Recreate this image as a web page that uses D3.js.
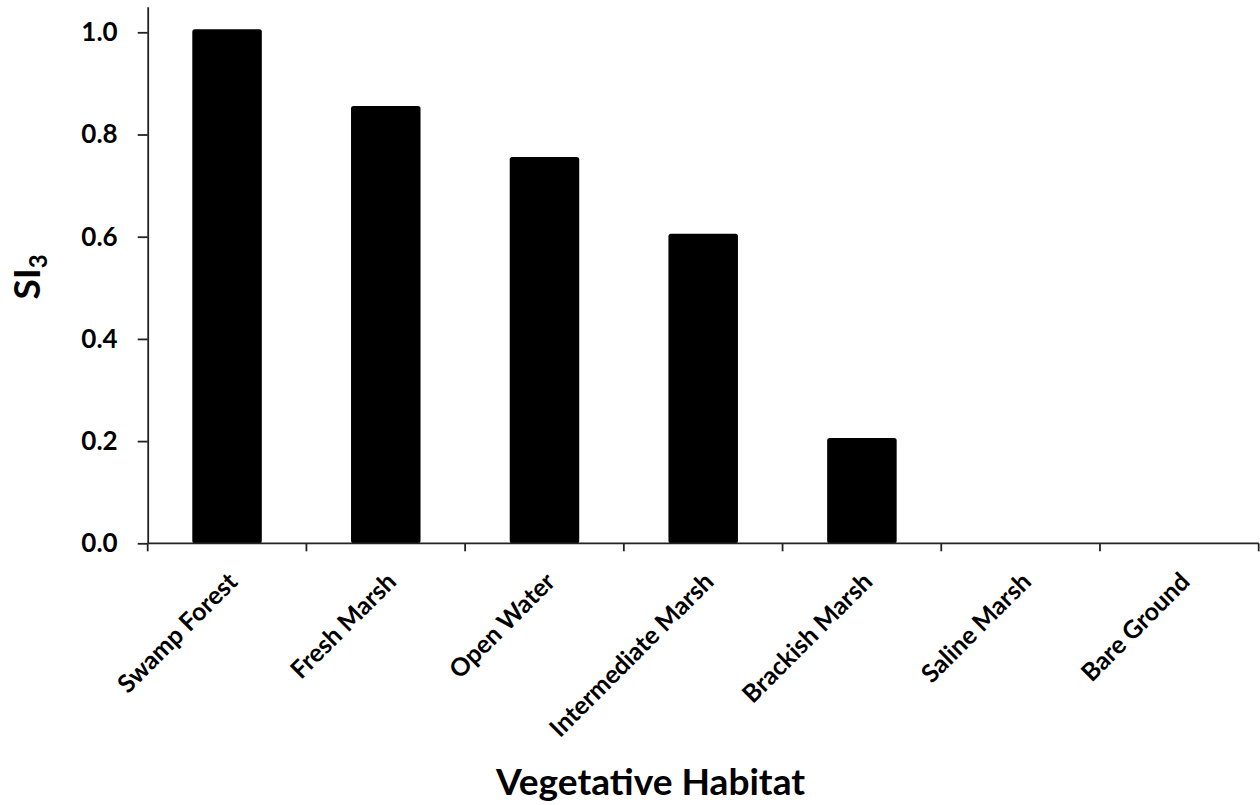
<!DOCTYPE html>
<html>
<head>
<meta charset="utf-8">
<script src="https://cdn.jsdelivr.net/npm/d3@7"></script>
<style>
  html, body { margin: 0; padding: 0; background: #fff; }
  svg { display: block; }
  text { font-family: Lato, "Open Sans", sans-serif; fill: #000; }
</style>
</head>
<body>
<svg id="chart" width="1260" height="805"></svg>
<script>
const categories = ["Swamp Forest", "Fresh Marsh", "Open Water", "Intermediate Marsh", "Brackish Marsh", "Saline Marsh", "Bare Ground"];
const values = [1.0, 0.85, 0.75, 0.6, 0.2, 0, 0];
const yTicks = [0, 0.2, 0.4, 0.6, 0.8, 1.0];
const xTitle = "Vegetative Habitat";
const yTitleMain = "SI";
const yTitleSub = "3";

(function () {
const svg = d3.select("#chart");
const plotLeft = 147.7, plotRight = 1258.7, plotBottom = 543.3, plotTop = 6.75;

const x = d3.scaleBand().domain(categories).range([plotLeft, plotRight]).padding(0);
const y = d3.scaleLinear().domain([0, 1.05]).range([plotBottom, plotTop]);

const barFrac = 0.438;
const bw = x.bandwidth() * barFrac;

// bars
svg.append("g").selectAll("rect")
  .data(categories.map((c, i) => ({c, v: values[i]})).filter(d => d.v > 0))
  .join("rect")
  .attr("x", d => x(d.c) + x.bandwidth() / 2 - bw / 2)
  .attr("width", bw)
  .attr("y", d => y(d.v) - 3)
  .attr("height", d => y(0) - y(d.v) + 3)
  .attr("rx", 2.5)
  .attr("fill", "#000");

// y axis
const yAxis = svg.append("g")
  .attr("transform", `translate(${plotLeft},0)`)
  .call(d3.axisLeft(y).tickValues(yTicks).tickFormat(d3.format(".1f"))
    .tickSize(10).tickSizeOuter(0).tickPadding(20));
yAxis.select(".domain").attr("stroke", "#222").attr("stroke-width", 1.8);
yAxis.selectAll(".tick line").attr("stroke", "#222").attr("stroke-width", 1.8);
yAxis.selectAll(".tick text")
  .style("font-family", "Lato, sans-serif")
  .style("font-weight", "bold")
  .style("font-size", "26px")
  .attr("fill", "#000");

// x axis
const xg = svg.append("g");
xg.append("line")
  .attr("x1", plotLeft).attr("x2", plotRight)
  .attr("y1", y(0)).attr("y2", y(0))
  .attr("stroke", "#222").attr("stroke-width", 1.8);
const boundaries = categories.map(c => x(c)).concat([x.range()[1]]);
xg.selectAll("line.tk").data(boundaries).join("line")
  .attr("class", "tk")
  .attr("x1", d => d).attr("x2", d => d)
  .attr("y1", y(0)).attr("y2", y(0) + 8)
  .attr("stroke", "#222").attr("stroke-width", 1.8);

// category labels
xg.selectAll("text.cat").data(categories).join("text")
  .attr("class", "cat")
  .attr("transform", d => `translate(${x(d) + x.bandwidth() / 2 + 12},${y(0) + 40}) rotate(-45)`)
  .attr("text-anchor", "end")
  .style("font-weight", "bold")
  .style("font-size", "25px")
  .text(d => d);

// x title
svg.append("text")
  .attr("x", 650.5).attr("y", 795)
  .attr("text-anchor", "middle")
  .style("font-weight", "bold")
  .style("font-size", "36px")
  .attr("textLength", 309)
  .attr("lengthAdjust", "spacingAndGlyphs")
  .text(xTitle);

// y title
const yt = svg.append("text")
  .attr("transform", "translate(40,277) rotate(-90)")
  .attr("text-anchor", "middle")
  .style("font-weight", "bold")
  .style("font-size", "37px");
yt.append("tspan").text(yTitleMain);
yt.append("tspan").attr("dy", "0.28em").style("font-size", "24px").text(yTitleSub);
})();
</script>
</body>
</html>
